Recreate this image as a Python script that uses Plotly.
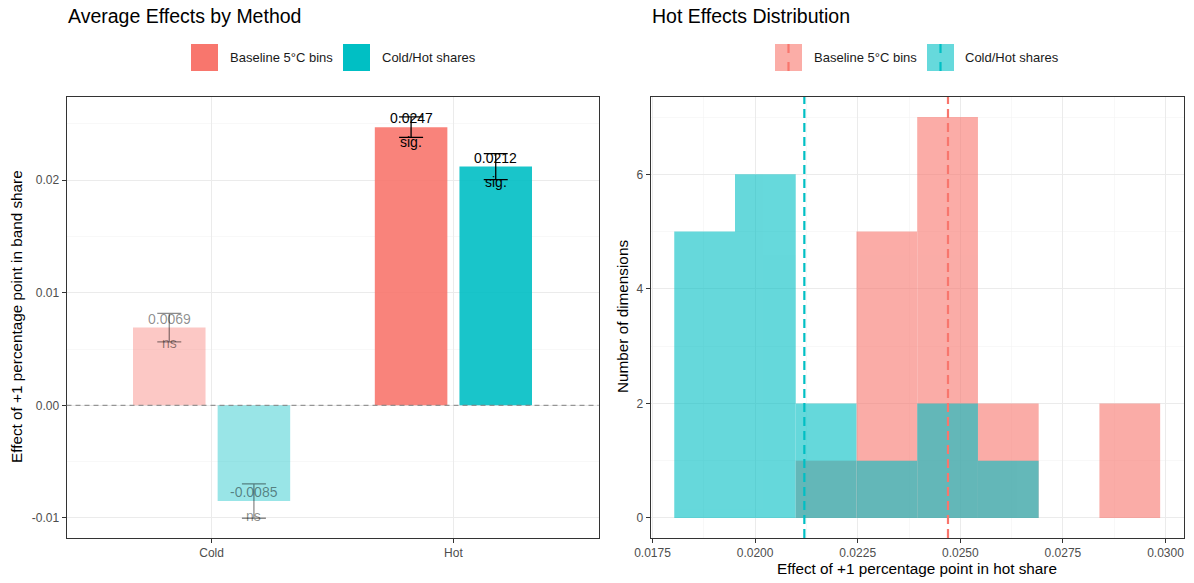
import plotly.graph_objects as go

# ---------------- data ----------------
categories = ["Cold", "Hot"]
methods = ["Baseline 5°C bins", "Cold/Hot shares"]
method_colors = ["#F8766D", "#00BFC4"]

baseline_est = [0.0069, 0.0247]
baseline_err = [0.00126, 0.00091]
baseline_sig = ["ns", "sig."]

coldhot_est = [-0.0085, 0.0212]
coldhot_err = [0.00153, 0.00116]
coldhot_sig = ["ns", "sig."]

# histogram of hot effects across dimensions (counts per bin)
bin_edges = [0.01803, 0.01951, 0.02099, 0.02247, 0.02395, 0.02543, 0.02691, 0.02839, 0.02987]
baseline_counts = [0, 0, 1, 5, 7, 2, 0, 2]
coldhot_counts = [5, 6, 2, 1, 2, 1, 0, 0]

left_yticks = [-0.01, 0.0, 0.01, 0.02]
left_yticktext = ["-0.01", "0.00", "0.01", "0.02"]
right_xticks = [0.0175, 0.0200, 0.0225, 0.0250, 0.0275, 0.0300]
right_xticktext = ["0.0175", "0.0200", "0.0225", "0.0250", "0.0275", "0.0300"]
right_yticks = [0, 2, 4, 6]

# ---------------- layout helpers ----------------
W, H = 1194, 583
FONT = "Liberation Sans, Arial, sans-serif"


def px(x):
    return x / W


def py(y):
    return 1 - y / H


def rgba(hexc, a):
    h = hexc.lstrip("#")
    r, g, b = int(h[0:2], 16), int(h[2:4], 16), int(h[4:6], 16)
    return f"rgba({r},{g},{b},{a})"


fig = go.Figure()

# ---------------- left panel: bars ----------------
est_lists = [baseline_est, coldhot_est]
err_lists = [baseline_err, coldhot_err]
sig_lists = [baseline_sig, coldhot_sig]
offsets = [-0.325, 0.025]
cat_px = (598.5 - 66.5) / 2.2
annotations = []

for m, method in enumerate(methods):
    for c, cat in enumerate(categories):
        sig = sig_lists[m][c] == "sig."
        alpha = 0.9 if sig else 0.4
        ecol = "rgba(0,0,0,1)" if sig else "rgba(0,0,0,0.45)"
        fig.add_trace(go.Bar(
            x=[cat], y=[est_lists[m][c]],
            offset=offsets[m], width=0.3,
            marker=dict(color=rgba(method_colors[m], alpha), line=dict(width=0)),
            error_y=dict(type="data", array=[err_lists[m][c]], visible=True,
                         color=ecol, thickness=1.3, width=12),
            showlegend=False, xaxis="x", yaxis="y", hoverinfo="skip",
        ))
        tcol = "#000000" if sig else "rgba(0,0,0,0.45)"
        annotations.append(dict(
            x=cat, y=est_lists[m][c], xref="x", yref="y",
            xshift=(offsets[m] + 0.15) * cat_px,
            yshift=9, text=f"{est_lists[m][c]:.4f}", showarrow=False,
            font=dict(family=FONT, size=14, color=tcol),
            xanchor="center", yanchor="middle"))
        annotations.append(dict(
            x=cat, y=est_lists[m][c], xref="x", yref="y",
            xshift=(offsets[m] + 0.15) * cat_px,
            yshift=-15, text=sig_lists[m][c], showarrow=False,
            font=dict(family=FONT, size=14, color=tcol),
            xanchor="center", yanchor="middle"))

# ---------------- right panel: histogram ----------------
bin_widths = [bin_edges[i + 1] - bin_edges[i] for i in range(len(bin_edges) - 1)]
for m, counts in enumerate([baseline_counts, coldhot_counts]):
    fig.add_trace(go.Bar(
        x=bin_edges[:-1], y=counts, width=bin_widths, offset=0,
        marker=dict(color=method_colors[m], line=dict(width=0)),
        opacity=0.6, showlegend=False, xaxis="x2", yaxis="y2", hoverinfo="skip",
    ))

shapes = []
# zero line (left)
shapes.append(dict(type="line", xref="x domain", yref="y", x0=0, x1=1, y0=0, y1=0,
                   line=dict(color="rgba(127,127,127,0.8)", width=1.2, dash="5px,4px"), layer="above"))
# mean lines (right)
for m, est in enumerate([baseline_est, coldhot_est]):
    shapes.append(dict(type="line", xref="x2", yref="y2 domain", x0=est[1], x1=est[1], y0=0, y1=1,
                       line=dict(color=method_colors[m], width=2.2, dash="9px,5px"), layer="above"))

# ---------------- legends (drawn) ----------------
leg_left = [(191.0, 227.7), (343.0, 379.6)]
leg_right = [(775.0, 811.7), (927.0, 963.3)]
for m, method in enumerate(methods):
    x0, tx = leg_left[m]
    shapes.append(dict(type="rect", xref="paper", yref="paper",
                       x0=px(x0), x1=px(x0 + 27), y0=py(44), y1=py(71),
                       fillcolor=method_colors[m], line=dict(width=0)))
    annotations.append(dict(x=px(tx), y=py(57.5), xref="paper", yref="paper", text=method,
                            showarrow=False, xanchor="left", yanchor="middle",
                            font=dict(family=FONT, size=13, color="#1A1A1A")))
    x0, tx = leg_right[m]
    shapes.append(dict(type="rect", xref="paper", yref="paper",
                       x0=px(x0), x1=px(x0 + 27), y0=py(44), y1=py(71),
                       fillcolor=rgba(method_colors[m], 0.6), line=dict(width=0)))
    shapes.append(dict(type="line", xref="paper", yref="paper",
                       x0=px(x0 + 13.5), x1=px(x0 + 13.5), y0=py(44), y1=py(71),
                       line=dict(color=method_colors[m], width=2.2, dash="9px,9px")))
    annotations.append(dict(x=px(tx), y=py(57.5), xref="paper", yref="paper", text=method,
                            showarrow=False, xanchor="left", yanchor="middle",
                            font=dict(family=FONT, size=13, color="#1A1A1A")))

# titles
annotations.append(dict(x=px(66), y=py(16), xref="paper", yref="paper", text="Average Effects by Method",
                        showarrow=False, xanchor="left", yanchor="middle",
                        font=dict(family=FONT, size=19.5, color="#000000")))
annotations.append(dict(x=px(650), y=py(16), xref="paper", yref="paper", text="Hot Effects Distribution",
                        showarrow=False, xanchor="left", yanchor="middle",
                        font=dict(family=FONT, size=19.5, color="#000000")))
# axis titles
annotations.append(dict(x=px(16), y=py(317), xref="paper", yref="paper",
                        text="Effect of +1 percentage point in band share", textangle=-90,
                        showarrow=False, xanchor="center", yanchor="middle",
                        font=dict(family=FONT, size=15.3, color="#000000")))
annotations.append(dict(x=px(622), y=py(317), xref="paper", yref="paper",
                        text="Number of dimensions", textangle=-90,
                        showarrow=False, xanchor="center", yanchor="middle",
                        font=dict(family=FONT, size=15.3, color="#000000")))
annotations.append(dict(x=px(917), y=py(568), xref="paper", yref="paper",
                        text="Effect of +1 percentage point in hot share",
                        showarrow=False, xanchor="center", yanchor="middle",
                        font=dict(family=FONT, size=15.3, color="#000000")))

GRID = "#EBEBEB"
MINOR = "#F3F3F3"
axis_common = dict(showline=True, mirror=True, linecolor="#333333", linewidth=1,
                   ticks="outside", ticklen=4, tickcolor="#333333", tickwidth=1,
                   tickfont=dict(family=FONT, size=12, color="#4D4D4D"),
                   gridcolor=GRID, gridwidth=1, zeroline=False, showgrid=True,
                   automargin=False)

fig.update_layout(
    width=W, height=H,
    margin=dict(l=0, r=0, t=0, b=0, pad=0, autoexpand=False),
    paper_bgcolor="white", plot_bgcolor="white",
    barmode="overlay",
    showlegend=False,
    hovermode=False,
    xaxis=dict(domain=[px(66.5), px(598.5)], anchor="y", type="category",
               categoryorder="array", categoryarray=categories,
               range=[-0.6, 1.6], **axis_common),
    yaxis=dict(domain=[py(538), py(97)], anchor="x",
               range=[-0.011785, 0.02738],
               tickmode="array", tickvals=left_yticks, ticktext=left_yticktext,
               minor=dict(tick0=0.005, dtick=0.01, showgrid=True, gridcolor=MINOR, gridwidth=0.6, ticklen=0),
               **axis_common),
    xaxis2=dict(domain=[px(650.5), px(1184)], anchor="y2",
                range=[0.017451, 0.030451],
                tickmode="array", tickvals=right_xticks, ticktext=right_xticktext,
                minor=dict(tick0=0.01875, dtick=0.0025, showgrid=True, gridcolor=MINOR, gridwidth=0.6, ticklen=0),
                **axis_common),
    yaxis2=dict(domain=[py(538), py(97)], anchor="x2",
                range=[-0.35, 7.35],
                tickmode="array", tickvals=right_yticks, ticktext=[str(v) for v in right_yticks],
                minor=dict(tick0=1, dtick=2, showgrid=True, gridcolor=MINOR, gridwidth=0.6, ticklen=0),
                **axis_common),
    shapes=shapes,
    annotations=annotations,
)

fig.write_html("out.html", config={"displayModeBar": False, "staticPlot": True},
               post_script="document.body.style.margin='0px';")
